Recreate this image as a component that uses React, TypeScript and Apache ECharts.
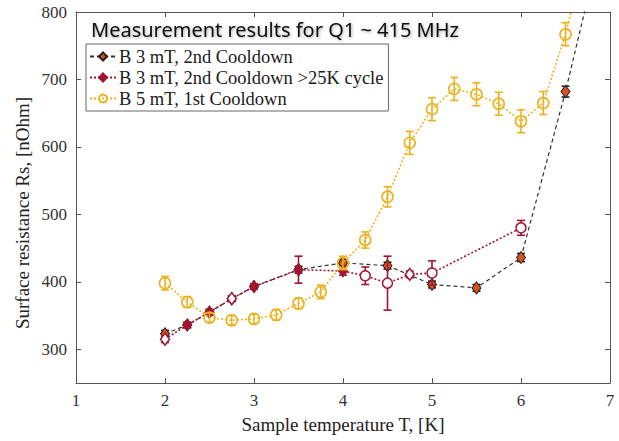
import React, { useEffect, useRef } from "react";
import * as echarts from "echarts";

// ---- Data ----
const s1Name = "B 3 mT, 2nd Cooldown";
const s1T = [2, 2.25, 2.5, 2.75, 3, 3.5, 4, 4.5, 5, 5.5, 6, 6.5, 6.75];
const s1R = [323, 336, 355, 375, 393, 418, 428, 424, 396, 391, 436, 682, 820];
const s1Err = [5, 4, 4, 4, 4, 5, 5, 5, 5, 5, 6, 8, 0];

const s2Name = "B 3 mT, 2nd Cooldown >25K cycle";
const s2T = [2, 2.25, 2.5, 2.75, 3, 3.5, 4, 4.25, 4.5, 4.75, 5, 6];
const s2R = [315, 336, 355, 375, 393, 418, 416, 409, 398, 411, 413, 480];
const s2Err = [5, 4, 4, 4, 4, 20, 6, 13, 40, 5, 18, 11];

const s3Name = "B 5 mT, 1st Cooldown";
const s3T = [2, 2.25, 2.5, 2.75, 3, 3.25, 3.5, 3.75, 4, 4.25, 4.5, 4.75, 5, 5.25, 5.5, 5.75, 6, 6.25, 6.5, 6.75];
const s3R = [398, 370, 347, 343, 345, 351, 368, 385, 428, 462, 526, 606, 656, 686, 678, 664, 638, 665, 767, 900];
const s3Err = [10, 8, 7, 7, 7, 8, 8, 10, 10, 12, 15, 17, 17, 17, 17, 17, 17, 17, 17, 0];

const xTicks = [1, 2, 3, 4, 5, 6, 7];
const yTicks = [300, 400, 500, 600, 700, 800];
const title = "Measurement results for Q1 ~ 415 MHz";
const xName = "Sample temperature T, [K]";
const yName = "Surface resistance Rs, [nOhm]";

const C1 = "#D95319";
const C2 = "#A2142F";
const C3 = "#EDB120";
const AX = "#555555";
const SERIF = "'Liberation Serif', 'DejaVu Serif', serif";

function errSeries(name: string, T: number[], R: number[], E: number[], color: string, z: number) {
  const data = T.map((t, i) => [t, R[i] - E[i], R[i] + E[i]]).filter((d, i) => E[i] > 0);
  return {
    type: "custom",
    name,
    z,
    clip: true,
    encode: { x: 0, y: [1, 2] },
    data,
    renderItem: (params: any, api: any) => {
      const x = api.value(0);
      const top = api.coord([x, api.value(2)]);
      const bot = api.coord([x, api.value(1)]);
      const w = 4;
      const style = { stroke: color, lineWidth: 1.6 };
      return {
        type: "group",
        children: [
          { type: "line", shape: { x1: top[0], y1: top[1], x2: bot[0], y2: bot[1] }, style },
          { type: "line", shape: { x1: top[0] - w, y1: top[1], x2: top[0] + w, y2: top[1] }, style },
          { type: "line", shape: { x1: bot[0] - w, y1: bot[1], x2: bot[0] + w, y2: bot[1] }, style },
        ],
      };
    },
  };
}

export default function App() {
  const ref = useRef<HTMLDivElement>(null);
  useEffect(() => {
    if (!ref.current) return;
    const chart = echarts.init(ref.current, null, { renderer: "svg" });

    const s2Hollow = new Set([2, 2.75, 4.75]);
    const s2Circle = new Set([4.25, 4.5, 5, 6]);

    const s1Data = s1T.map((t, i) => ({ value: [t, s1R[i]], symbol: s1Err[i] === 0 ? "none" : "diamond" }));
    const s2Data = s2T.map((t, i) => {
      if (s2Circle.has(t)) return { value: [t, s2R[i]], symbol: "circle", symbolSize: 10, itemStyle: { color: "#ffffff", borderColor: C2, borderWidth: 1.5 } };
      if (s2Hollow.has(t)) return { value: [t, s2R[i]], symbol: "diamond", itemStyle: { color: "#ffffff", borderColor: C2, borderWidth: 1.5 } };
      return { value: [t, s2R[i]] };
    });
    const s3Data = s3T.map((t, i) => ({ value: [t, s3R[i]], symbol: s3Err[i] === 0 ? "none" : "circle" }));

    const axisCommon = {
      axisLine: { show: true, lineStyle: { color: AX, width: 1 } },
      splitLine: { show: false },
    };

    chart.setOption({
      animation: false,
      grid: { left: 76, right: 9, top: 12, bottom: 58, containLabel: false },
      title: {
        text: title,
        left: 86,
        top: 14,
        textStyle: {
          fontFamily: "'Noto Sans', sans-serif",
          fontSize: 20,
          fontWeight: "normal",
          color: "#111",
          textShadowColor: "rgba(0,0,0,0.35)",
          textShadowBlur: 3,
          textShadowOffsetX: 1,
          textShadowOffsetY: 1,
        },
      },
      graphic: [
        {
          type: "text",
          x: 22,
          y: 213,
          rotation: Math.PI / 2,
          style: {
            text: yName,
            fontFamily: SERIF,
            fontSize: 19,
            fill: "#222",
            align: "center",
            verticalAlign: "middle",
          },
        },
      ],
      legend: {
        data: [s1Name, s2Name, s3Name],
        orient: "vertical",
        left: 86,
        top: 44,
        padding: [3, 5, 3, 3],
        itemWidth: 26,
        itemHeight: 10,
        itemGap: 2,
        backgroundColor: "#ffffff",
        borderColor: "#666",
        borderWidth: 1,
        textStyle: { fontFamily: SERIF, fontSize: 18.5, color: "#1a1a1a", padding: [0, 0, 0, -2] },
      },
      xAxis: [
        {
          type: "value",
          min: 1,
          max: 7,
          interval: 1,
          position: "bottom",
          ...axisCommon,
          axisTick: { show: true, inside: true, length: 5, lineStyle: { color: AX } },
          axisLabel: { fontFamily: SERIF, fontSize: 17, color: "#333", margin: 9, customValues: xTicks },
          name: xName,
          nameLocation: "middle",
          nameGap: 32,
          nameTextStyle: { fontFamily: SERIF, fontSize: 19, color: "#222" },
        },
        {
          type: "value",
          min: 1,
          max: 7,
          interval: 1,
          position: "top",
          ...axisCommon,
          axisTick: { show: true, inside: true, length: 5, lineStyle: { color: AX } },
          axisLabel: { show: false },
        },
      ],
      yAxis: [
        {
          type: "value",
          min: 250,
          max: 800,
          position: "left",
          ...axisCommon,
          axisTick: { show: true, inside: true, length: 5, lineStyle: { color: AX }, customValues: yTicks },
          axisLabel: { fontFamily: SERIF, fontSize: 17, color: "#333", margin: 9, customValues: yTicks },
        },
        {
          type: "value",
          min: 250,
          max: 800,
          position: "right",
          ...axisCommon,
          axisTick: { show: true, inside: true, length: 5, lineStyle: { color: AX }, customValues: yTicks },
          axisLabel: { show: false },
        },
      ],
      series: [
        errSeries("err1", s1T, s1R, s1Err, "#222222", 2),
        {
          type: "line",
          name: s1Name,
          data: s1Data,
          z: 3,
          clip: true,
          symbol: "diamond",
          symbolSize: [9, 12],
          itemStyle: { color: C1, borderColor: "#222", borderWidth: 1 },
          lineStyle: { color: "#333", width: 1.2, type: [4, 3] },
        },
        errSeries("err2", s2T, s2R, s2Err, C2, 4),
        {
          type: "line",
          name: s2Name,
          data: s2Data,
          z: 5,
          clip: true,
          symbol: "diamond",
          symbolSize: [9, 12],
          itemStyle: { color: C2, borderColor: C2, borderWidth: 1 },
          lineStyle: { color: C2, width: 1.6, type: [2, 2] },
        },
        errSeries("err3", s3T, s3R, s3Err, C3, 6),
        {
          type: "line",
          name: s3Name,
          data: s3Data,
          z: 7,
          clip: true,
          symbol: "circle",
          symbolSize: 11,
          itemStyle: { color: "rgba(255,255,255,0)", borderColor: C3, borderWidth: 1.6 },
          lineStyle: { color: C3, width: 1.6, type: [2, 2] },
        },
      ],
    });
    return () => chart.dispose();
  }, []);
  return <div ref={ref} style={{ width: 619, height: 441, position: "absolute", left: 0, top: 0 }} />;
}
